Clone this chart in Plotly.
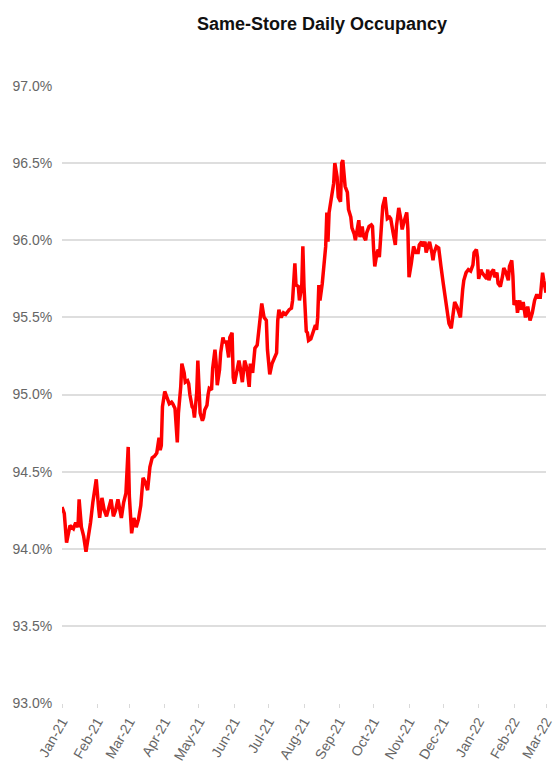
import pandas as pd
import plotly.graph_objects as go

# Same-store daily occupancy (%), sampled along the series
dates = [
    "2021-01-01", "2021-01-03", "2021-01-05", "2021-01-08", "2021-01-11", "2021-01-13",
    "2021-01-15", "2021-01-16", "2021-01-18", "2021-01-20", "2021-01-22", "2021-01-24",
    "2021-01-26", "2021-01-28", "2021-01-31", "2021-02-02", "2021-02-03", "2021-02-05",
    "2021-02-07", "2021-02-09", "2021-02-11", "2021-02-13", "2021-02-15", "2021-02-17",
    "2021-02-19", "2021-02-22", "2021-02-24", "2021-02-26", "2021-02-28", "2021-03-01",
    "2021-03-03", "2021-03-05", "2021-03-07", "2021-03-09", "2021-03-11", "2021-03-13",
    "2021-03-15", "2021-03-17", "2021-03-19", "2021-03-21", "2021-03-23", "2021-03-25",
    "2021-03-27", "2021-03-28", "2021-03-29", "2021-03-30", "2021-04-01", "2021-04-03",
    "2021-04-05", "2021-04-07", "2021-04-08", "2021-04-10", "2021-04-12", "2021-04-13",
    "2021-04-15", "2021-04-16", "2021-04-18", "2021-04-19", "2021-04-21", "2021-04-22",
    "2021-04-23", "2021-04-25", "2021-04-26", "2021-04-27", "2021-04-29", "2021-04-30",
    "2021-05-01", "2021-05-02", "2021-05-04", "2021-05-05", "2021-05-06", "2021-05-08",
    "2021-05-09", "2021-05-10", "2021-05-12", "2021-05-13", "2021-05-15", "2021-05-16",
    "2021-05-17", "2021-05-19", "2021-05-20", "2021-05-22", "2021-05-23", "2021-05-25",
    "2021-05-27", "2021-05-28", "2021-05-30", "2021-05-31", "2021-06-01", "2021-06-03",
    "2021-06-05", "2021-06-06", "2021-06-08", "2021-06-10", "2021-06-12", "2021-06-14",
    "2021-06-15", "2021-06-17", "2021-06-19", "2021-06-21", "2021-06-23", "2021-06-25",
    "2021-06-27", "2021-06-29", "2021-06-30", "2021-07-02", "2021-07-04", "2021-07-06",
    "2021-07-08", "2021-07-09", "2021-07-10", "2021-07-12", "2021-07-14", "2021-07-16",
    "2021-07-18", "2021-07-19", "2021-07-21", "2021-07-22", "2021-07-24", "2021-07-25",
    "2021-07-27", "2021-07-28", "2021-07-30", "2021-07-31", "2021-08-01", "2021-08-03",
    "2021-08-04", "2021-08-05", "2021-08-07", "2021-08-09", "2021-08-11", "2021-08-12",
    "2021-08-13", "2021-08-14", "2021-08-15", "2021-08-17", "2021-08-18", "2021-08-20",
    "2021-08-21", "2021-08-22", "2021-08-23", "2021-08-25", "2021-08-27", "2021-08-28",
    "2021-08-30", "2021-08-31", "2021-09-02", "2021-09-03", "2021-09-04", "2021-09-06",
    "2021-09-08", "2021-09-09", "2021-09-11", "2021-09-12", "2021-09-14", "2021-09-15",
    "2021-09-16", "2021-09-18", "2021-09-19", "2021-09-21", "2021-09-22", "2021-09-24",
    "2021-09-25", "2021-09-27", "2021-09-29", "2021-09-30", "2021-10-01", "2021-10-02",
    "2021-10-04", "2021-10-05", "2021-10-06", "2021-10-08", "2021-10-09", "2021-10-11",
    "2021-10-12", "2021-10-13", "2021-10-15", "2021-10-16", "2021-10-18", "2021-10-20",
    "2021-10-21", "2021-10-23", "2021-10-25", "2021-10-26", "2021-10-28", "2021-10-30",
    "2021-10-31", "2021-11-01", "2021-11-03", "2021-11-05", "2021-11-07", "2021-11-09",
    "2021-11-10", "2021-11-12", "2021-11-13", "2021-11-15", "2021-11-16", "2021-11-18",
    "2021-11-19", "2021-11-21", "2021-11-22", "2021-11-23", "2021-11-25", "2021-11-27",
    "2021-11-28", "2021-11-29", "2021-12-01", "2021-12-03", "2021-12-05", "2021-12-06",
    "2021-12-08", "2021-12-09", "2021-12-11", "2021-12-13", "2021-12-15", "2021-12-16",
    "2021-12-18", "2021-12-19", "2021-12-21", "2021-12-23", "2021-12-25", "2021-12-27",
    "2021-12-28", "2021-12-30", "2021-12-31", "2022-01-01", "2022-01-03", "2022-01-04",
    "2022-01-06", "2022-01-08", "2022-01-09", "2022-01-10", "2022-01-12", "2022-01-14",
    "2022-01-15", "2022-01-17", "2022-01-18", "2022-01-20", "2022-01-22", "2022-01-23",
    "2022-01-25", "2022-01-27", "2022-01-28", "2022-01-30", "2022-01-31", "2022-02-01",
    "2022-02-03", "2022-02-04", "2022-02-06", "2022-02-07", "2022-02-09", "2022-02-11",
    "2022-02-13", "2022-02-14", "2022-02-15", "2022-02-17", "2022-02-19", "2022-02-21",
    "2022-02-22", "2022-02-24", "2022-02-26", "2022-02-27", "2022-03-01",
]

occupancy = [
    94.27, 94.23, 94.04, 94.15, 94.13, 94.17,
    94.14, 94.32, 94.14, 94.08, 93.98, 94.06,
    94.17, 94.30, 94.45, 94.27, 94.20, 94.33,
    94.25, 94.21, 94.26, 94.32, 94.21, 94.25,
    94.32, 94.20, 94.30, 94.36, 94.66, 94.34,
    94.10, 94.20, 94.14, 94.19, 94.28, 94.46,
    94.43, 94.38, 94.53, 94.59, 94.60, 94.62,
    94.72, 94.64, 94.67, 94.92, 95.02, 94.98,
    94.94, 94.95, 94.94, 94.91, 94.69, 94.88,
    95.05, 95.20, 95.14, 95.08, 95.09, 95.07,
    95.00, 94.92, 94.91, 94.85, 95.01, 95.22,
    95.03, 94.88, 94.83, 94.85, 94.90, 94.93,
    95.00, 95.04, 95.03, 95.17, 95.29, 95.21,
    95.06, 95.16, 95.27, 95.37, 95.34, 95.34,
    95.24, 95.37, 95.40, 95.11, 95.07, 95.16,
    95.22, 95.18, 95.08, 95.22, 95.17, 95.05,
    95.20, 95.14, 95.30, 95.32, 95.44, 95.59,
    95.50, 95.48, 95.29, 95.13, 95.20, 95.24,
    95.27, 95.48, 95.55, 95.50, 95.53, 95.52,
    95.54, 95.55, 95.56, 95.61, 95.85, 95.71,
    95.70, 95.61, 95.70, 95.96, 95.70, 95.41,
    95.40, 95.35, 95.36, 95.41, 95.45, 95.42,
    95.50, 95.71, 95.61, 95.72, 95.81, 95.96,
    96.18, 95.99, 96.18, 96.28, 96.37, 96.50,
    96.41, 96.28, 96.25, 96.50, 96.52, 96.35,
    96.31, 96.20, 96.15, 96.08, 96.04, 96.00,
    96.05, 96.13, 96.02, 96.09, 96.03, 96.00,
    96.05, 96.09, 96.10, 96.09, 95.94, 95.83,
    95.92, 95.94, 95.89, 96.07, 96.22, 96.28,
    96.22, 96.14, 96.15, 96.14, 96.05, 95.97,
    96.09, 96.21, 96.13, 96.07, 96.13, 96.18,
    96.07, 95.76, 95.85, 95.96, 95.92, 95.92,
    95.97, 95.99, 95.96, 95.99, 95.92, 95.97,
    95.99, 95.92, 95.87, 95.92, 95.96, 95.95,
    95.87, 95.83, 95.72, 95.61, 95.50, 95.46,
    95.43, 95.48, 95.60, 95.57, 95.53, 95.50,
    95.68, 95.74, 95.79, 95.81, 95.80, 95.84,
    95.92, 95.94, 95.89, 95.75, 95.81, 95.79,
    95.77, 95.75, 95.81, 95.74, 95.79, 95.81,
    95.76, 95.79, 95.72, 95.70, 95.77, 95.82,
    95.79, 95.74, 95.83, 95.87, 95.77, 95.58,
    95.61, 95.53, 95.61, 95.55, 95.60, 95.50,
    95.57, 95.50, 95.48, 95.53, 95.61, 95.65,
    95.63, 95.63, 95.79, 95.74, 95.66,
]

y_ticks = [93.0, 93.5, 94.0, 94.5, 95.0, 95.5, 96.0, 96.5, 97.0]
y_tick_text = [f"{v:.1f}%" for v in y_ticks]
x_ticks = pd.date_range("2021-01-01", "2022-03-01", freq="MS")

label_font = "Liberation Sans, Arial, sans-serif"

fig = go.Figure(
    go.Scatter(
        x=pd.to_datetime(dates),
        y=occupancy,
        mode="lines",
        line=dict(color="#ff0000", width=3.5),
        hoverinfo="skip",
    )
)

fig.update_layout(
    width=555,
    height=777,
    margin=dict(l=62, r=9, t=86, b=74),
    paper_bgcolor="white",
    plot_bgcolor="white",
    showlegend=False,
    title=dict(
        text="<b>Same-Store Daily Occupancy</b>",
        x=322 / 555,
        xanchor="center",
        y=1 - 24 / 777,
        yanchor="middle",
        font=dict(family=label_font, size=18, color="#111111"),
    ),
)

fig.update_xaxes(
    type="date",
    range=["2021-01-01", "2022-03-01"],
    tickvals=x_ticks,
    tickformat="%b-%y",
    tickangle=-60,
    tickfont=dict(family=label_font, size=14, color="#666666"),
    ticks="outside",
    ticklen=4,
    tickcolor="#d9d9d9",
    showgrid=False,
    showline=False,
    zeroline=False,
    automargin=False,
)

fig.update_yaxes(
    range=[93.0, 97.0],
    tickvals=y_ticks,
    ticktext=y_tick_text,
    tickfont=dict(family=label_font, size=14, color="#666666"),
    ticks="outside",
    ticklen=6,
    tickcolor="rgba(0,0,0,0)",
    showgrid=True,
    gridcolor="#dedede",
    gridwidth=1.5,
    zeroline=False,
    showline=False,
    automargin=False,
)

fig.write_html("out.html")
